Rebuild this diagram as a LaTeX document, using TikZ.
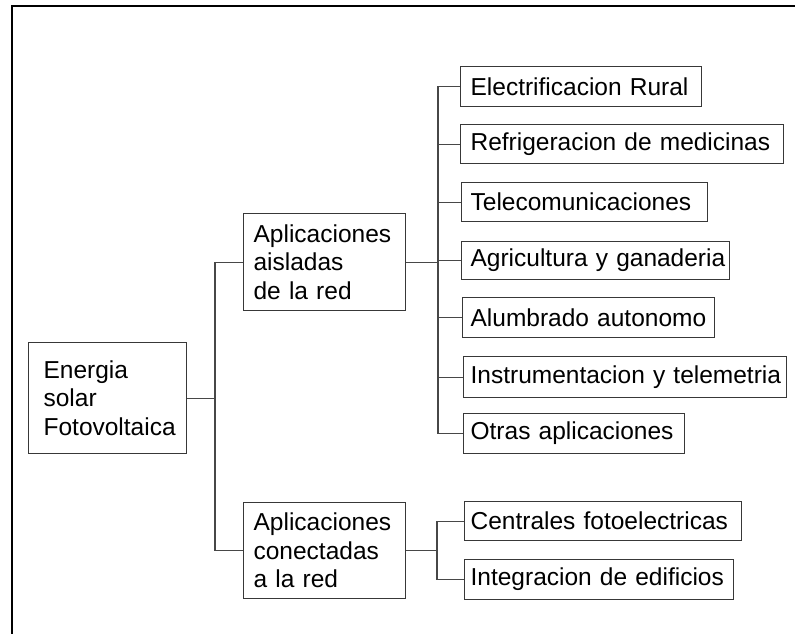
\documentclass[tikz,border=0pt]{standalone}
\usepackage{fontspec}
\setmainfont{Liberation Sans}
\begin{document}
\begin{tikzpicture}[x=1pt,y=-1pt,
  box/.style={draw=black!78, line width=1.2pt, inner xsep=10pt, inner ysep=0pt,
    align=left, anchor=north west, text=black,
    font=\fontsize{24.5}{28.5}\selectfont},
  link/.style={draw=black!72, line width=1.2pt},
  frame/.style={draw=black, line width=2.2pt}]
\useasboundingbox (0,0) rectangle (795,634);
\draw[frame] (12,634) -- (12,6) -- (795,6);
% root
\node[box, inner xsep=15pt, text width=128pt, minimum height=111pt] (root) at (28,342) {\mbox{Energia}\\\mbox{solar}\\\mbox{Fotovoltaica}};
% second level
\node[box, text width=142pt, minimum height=97pt] (ais) at (243,213) {\mbox{Aplicaciones}\\\mbox{aisladas}\\\mbox{de la red}};
\node[box, text width=142pt, minimum height=96pt] (con) at (243,502) {\mbox{Aplicaciones}\\\mbox{conectadas}\\\mbox{a la red}};
% leaves of aisladas
\node[box, inner xsep=10pt, text width=221pt, minimum height=40pt] (c1) at (460,66) {\mbox{Electrificacion Rural}};
\node[box, inner xsep=10pt, text width=303pt, minimum height=39pt] (c2) at (460,124) {\mbox{Refrigeracion de medicinas}};
\node[box, inner xsep=9pt, text width=228pt, minimum height=39pt] (c3) at (461,182) {\mbox{Telecomunicaciones}};
\node[box, inner xsep=9pt, text width=250pt, minimum height=38pt] (c4) at (461,241) {\mbox{Agricultura y ganaderia}};
\node[box, inner xsep=8pt, text width=236pt, minimum height=40pt] (c5) at (462,297) {\mbox{Alumbrado autonomo}};
\node[box, inner xsep=7pt, text width=309pt, minimum height=41pt] (c6) at (463,356) {\mbox{Instrumentacion y telemetria}};
\node[box, inner xsep=7pt, text width=207pt, minimum height=40pt] (c7) at (463,413) {\mbox{Otras aplicaciones}};
% leaves of conectadas
\node[box, inner xsep=6pt, text width=265pt, minimum height=39pt] (d1) at (464,501) {\mbox{Centrales fotoelectricas}};
\node[box, inner xsep=6pt, text width=257pt, minimum height=40pt] (d2) at (464,559) {\mbox{Integracion de edificios}};
% trunk coordinates
\coordinate (t1) at (215,0);
\coordinate (t2) at (438,0);
\coordinate (t3) at (437,0);
% connectors
\draw[link] (root.east) -- (root.east -| t1);
\draw[link] (ais.west) -- (ais.west -| t1) |- (con.west);
\draw[link] (ais.east) -- (ais.east -| t2);
\draw[link] (c1.west) -- (c1.west -| t2) |- (c7.west);
\draw[link] (c2.west) -- (c2.west -| t2);
\draw[link] (c3.west) -- (c3.west -| t2);
\draw[link] (c4.west) -- (c4.west -| t2);
\draw[link] (c5.west) -- (c5.west -| t2);
\draw[link] (c6.west) -- (c6.west -| t2);
\draw[link] (con.east) -- (con.east -| t3);
\draw[link] (d1.west) -- (d1.west -| t3) |- (d2.west);
\end{tikzpicture}
\end{document}
